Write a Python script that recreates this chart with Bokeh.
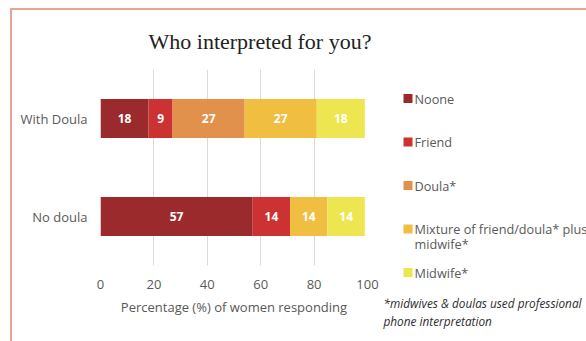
from bokeh.plotting import figure
from bokeh.layouts import row, column
from bokeh.models import ColumnDataSource, FixedTicker, FactorRange, Range1d
from bokeh.core.properties import value
from bokeh.embed import file_html
from bokeh.resources import INLINE

# ---- data ----
groups = ["No doula", "With Doula"]
series = ["Noone", "Friend", "Doula*", "Mixture of friend/doula* plus", "Midwife*"]
series_extra = ["", "", "", "midwife*", ""]
noone = [57, 18]
friend = [14, 9]
doula = [0, 27]
mixture = [14, 27]
midwife = [14, 18]
colors = ["#9b2a2d", "#cd3232", "#e1914b", "#f0be41", "#eee650"]
x_ticks = [0, 20, 40, 60, 80, 100]
title = "Who interpreted for you?"
x_label = "Percentage (%) of women responding"
footnote = ["*midwives & doulas used professional", "phone interpretation"]

keys = ["noone", "friend", "doula", "mixture", "midwife"]
cols = [noone, friend, doula, mixture, midwife]
source = ColumnDataSource(dict(group=groups, **dict(zip(keys, cols))))

FONT = "Open Sans"
GREY = "#595959"
H = 331

# ---- main chart ----
p = figure(width=368, height=H, y_range=FactorRange(*groups, range_padding=0),
           x_range=(0, 100), output_backend="svg", toolbar_location=None,
           min_border_left=88, min_border_right=13, min_border_top=58,
           min_border_bottom=76, outline_line_color=None,
           background_fill_color="white", border_fill_color="white")

p.hbar_stack(keys, y="group", height=0.4, color=colors, source=source, line_color=None)

lx, ly, lt = [], [], []
for gi, g in enumerate(groups):
    left = 0
    for c in cols:
        v = c[gi]
        if v > 0:
            lx.append(left + v / 2)
            ly.append(g)
            lt.append(str(v))
        left += v
p.text(x=lx, y=ly, text=lt, text_color="white", text_align="center",
       text_baseline="middle", text_font=value(FONT), text_font_size="12px",
       text_font_style="bold")

p.title.text = title
p.title.align = "left"
p.title.offset = 48
p.title.text_font = "Liberation Serif"
p.title.text_font_size = "22px"
p.title.text_font_style = "normal"
p.title.text_color = "#222222"
p.title.standoff = 32

p.xaxis.ticker = FixedTicker(ticks=x_ticks)
p.xaxis.axis_line_color = None
p.xaxis.major_tick_line_color = None
p.xaxis.minor_tick_line_color = None
p.xaxis.major_tick_out = 0
p.xaxis.major_label_standoff = 14
p.xaxis.major_label_text_font = FONT
p.xaxis.major_label_text_font_size = "13px"
p.xaxis.major_label_text_color = GREY
p.xaxis.axis_label = x_label
p.xaxis.axis_label_text_font = FONT
p.xaxis.axis_label_text_font_size = "13px"
p.xaxis.axis_label_text_font_style = "normal"
p.xaxis.axis_label_text_color = GREY
p.xaxis.axis_label_standoff = 6

p.yaxis.axis_line_color = None
p.yaxis.major_tick_line_color = None
p.yaxis.minor_tick_line_color = None
p.yaxis.major_tick_out = 0
p.yaxis.major_label_standoff = 13
p.yaxis.major_label_text_font = FONT
p.yaxis.major_label_text_font_size = "13px"
p.yaxis.major_label_text_color = GREY

p.xgrid.grid_line_color = "#d9d9d9"
p.ygrid.grid_line_color = None

# ---- legend / footnote panel (pixel coordinates, y downwards) ----
WL = 206
q = figure(width=WL, height=H, x_range=Range1d(0, WL), y_range=Range1d(H, 0),
           output_backend="svg", toolbar_location=None, min_border=0,
           min_border_left=0, min_border_right=0, min_border_top=0,
           min_border_bottom=0,
           outline_line_color=None, background_fill_color="white",
           border_fill_color="white")
q.axis.visible = False
q.grid.visible = False

first, pitch = 88, 43.5
ys = [first + i * pitch for i in range(len(series))]
q.scatter(x=[27.5] * len(series), y=ys, marker="square", size=9, color=colors,
          line_color=None)
q.text(x=[34] * len(series), y=ys, text=series, text_baseline="middle",
       text_font=value(FONT), text_font_size="12.7px", text_color=GREY)
ex = [(y + 15, t) for y, t in zip(ys, series_extra) if t]
q.text(x=[34] * len(ex), y=[e[0] for e in ex], text=[e[1] for e in ex],
       text_baseline="middle", text_font=value(FONT), text_font_size="12.7px",
       text_color=GREY)
q.text(x=[3] * len(footnote), y=[292 + 18 * i for i in range(len(footnote))],
       text=footnote, text_baseline="middle", text_font=value(FONT),
       text_font_size="11.8px", text_font_style="italic", text_color="#2e2e2e")

layout = row(p, column(q), spacing=0)
layout.styles = {"margin-left": "10px", "margin-top": "8px",
                 "border-left": "2px solid #e6a593", "border-top": "2px solid #e6a593"}

open("out.html", "w").write(file_html(layout, INLINE))
